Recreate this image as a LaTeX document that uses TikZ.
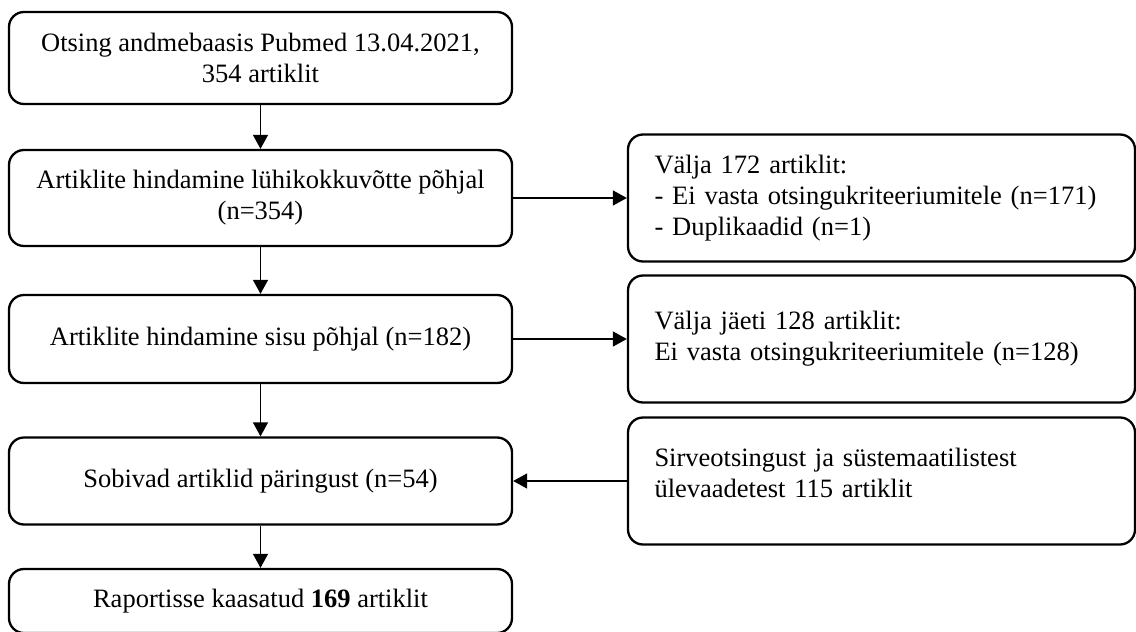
\documentclass[tikz,border=0pt]{standalone}
\usepackage{fontspec}
\setmainfont{Liberation Serif}
\usetikzlibrary{arrows.meta}
\begin{document}
\begin{tikzpicture}[x=1pt,y=-1pt,
  box/.style={draw=black, line width=2.3pt, rounded corners=15pt, inner sep=0pt,
    font=\fontsize{26.5}{31}\selectfont},
  lbox/.style={box, minimum width=503pt, align=center},
  rbox/.style={box, minimum width=507pt, minimum height=127pt, text width=454pt, align=left},
  arr/.style={line width=1.3pt, -{Triangle[length=14pt,width=15pt]}}]
\useasboundingbox (0,0) rectangle (1136,632);
% left column
\node[lbox, minimum height=92pt] (b1) at (260.5,58) {Otsing andmebaasis Pubmed 13.04.2021,\\354 artiklit};
\node[lbox, minimum height=96pt] (b2) at (260.5,198) {Artiklite hindamine lühikokkuvõtte põhjal\\(n=354)};
\node[lbox, minimum height=88pt] (b4) at (260.5,339) {Artiklite hindamine sisu põhjal (n=182)};
\node[lbox, minimum height=87pt] (b6) at (260.5,481) {Sobivad artiklid päringust (n=54)};
\node[lbox, minimum height=64pt] (b8) at (260.5,601) {Raportisse kaasatud \textbf{169} artiklit};
% right column
\node[rbox] (b3) at (881.5,198) {Välja 172 artiklit:\\- Ei vasta otsingukriteeriumitele (n=171)\\- Duplikaadid (n=1)};
\node[rbox] (b5) at (881.5,339) {Välja jäeti 128 artiklit:\\Ei vasta otsingukriteeriumitele (n=128)};
\node[rbox, text depth=48pt] (b7) at (881.5,481) {Sirveotsingust ja süstemaatilistest\\ülevaadetest 115 artiklit};
% connectors
\draw[arr] (b1) -- (b2);
\draw[arr] (b2) -- (b4);
\draw[arr] (b4) -- (b6);
\draw[arr] (b6) -- (b8);
\draw[arr] (b2.east) -- (b3.west);
\draw[arr] (b4.east) -- (b5.west);
\draw[arr] (b7.west) -- (b6.east);
\end{tikzpicture}
\end{document}
